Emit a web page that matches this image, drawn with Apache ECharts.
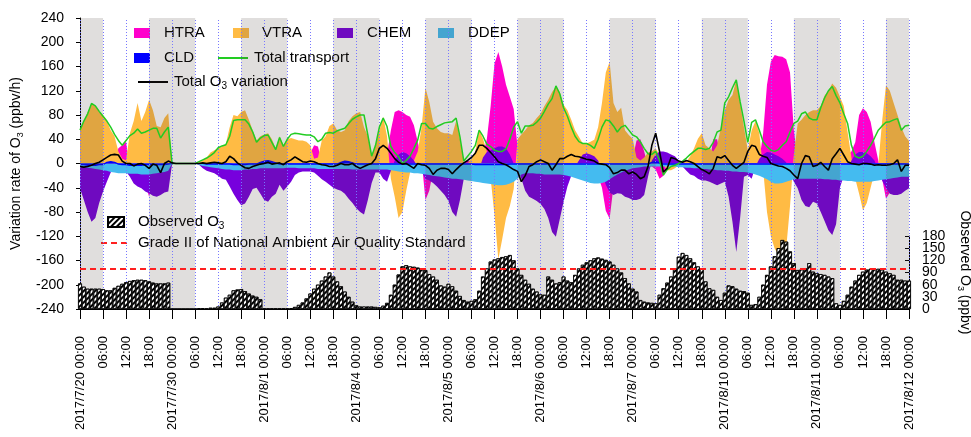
<!DOCTYPE html>
<html>
<head>
<meta charset="utf-8">
<script src="https://cdn.jsdelivr.net/npm/echarts@6/dist/echarts.min.js"></script>
<style>
  html, body { margin: 0; padding: 0; background: #fff; }
  #chart { width: 971px; height: 437px; }
</style>
</head>
<body>
<div id="chart"></div>
<script>
// Etiquetas de los dias (00:00 de cada dia del eje)
const DAY_LABELS = ['2017/7/20', '2017/7/30', '2017/8/1', '2017/8/4', '2017/8/5',
  '2017/8/6', '2017/8/7', '2017/8/10', '2017/8/11', '2017/8/12'];
const GRADE_II = 100; // ppbv
const OBS_MAX = 180;  // tope del eje derecho

// Tasas horarias (ppbv/h), una por hora desde 2017/7/20 00:00
const HTRA = [
  0,0,-3,0,0,1,-2,0,5,3,25,30,36,-9,-20,-35,-20,-33,-55,-30,-4,-18,-23,-23,
  0,0,0,0,0,0,0,1,1,-1,-5,-4,1,1,-1,-15,-9,-6,-13,-16,-7,-3,-3,-3,
  -2,-3,-5,-2,-2,-2,0,6,10,11,10,11,17,30,28,2,5,-11,-16,-1,4,3,-4,-5,
  -6,-5,20,2,-2,0,5,-2,15,55,85,88,85,80,77,63,36,6,-60,-45,-12,3,12,17,
  18,22,5,4,2,4,5,10,0,15,40,95,165,184,160,130,110,90,28,2,7,-1,-4,-7,
  -7,-9,-7,-11,1,-3,-5,-10,-12,-10,-8,0,0,-6,-14,-20,-40,-78,-91,-38,-33,-32,8,8,
  8,38,40,20,-5,-5,-10,-25,-20,-5,5,5,3,0,5,3,-5,-15,-25,-7,0,40,40,10,
  12,5,12,0,2,5,10,10,2,5,50,130,168,179,177,176,172,150,55,5,10,5,-10,-15,
  -16,-3,-4,0,-5,-13,-10,-13,14,20,35,80,91,85,69,35,5,-25,-58,-48,-30,-10,-5,15,25
];
const VTRA = [
  55,70,85,99,95,85,80,70,55,45,20,8,5,50,70,100,70,85,105,88,62,60,75,83,
  0,0,0,0,0,0,0,2,5,10,18,22,25,28,32,60,80,78,85,88,72,55,38,45,
  48,50,40,25,45,30,40,42,40,38,38,36,30,8,10,38,45,62,66,55,52,55,70,78,
  83,85,60,45,14,30,55,77,45,-25,-55,-90,-80,-45,-15,5,20,60,125,102,69,58,52,50,
  50,47,70,40,2,0,8,20,55,41,20,-25,-85,-158,-125,-90,-70,-42,40,48,55,63,67,75,
  82,95,105,118,127,118,97,88,72,55,44,33,33,36,39,60,100,150,168,100,85,92,55,47,
  41,10,5,10,18,20,25,14,-2,-11,-11,-8,-3,3,3,12,25,41,50,30,25,20,30,60,
  88,105,113,138,100,60,22,55,70,50,-10,-80,-120,-140,-151,-151,-140,-70,15,66,72,80,85,88,
  88,95,112,120,132,125,110,95,52,10,-25,-50,-77,-65,-40,-15,-2,70,129,120,100,80,60,45,37
];
const CHEM = [
  -41,-60,-80,-96,-90,-65,-46,-30,-15,-8,-8,-10,-13,-22,-33,-38,-41,-46,-49,-53,-55,-52,-48,-46,
  0,0,0,0,0,0,0,-2,-8,-12,-14,-16,-20,-25,-27,-38,-50,-60,-69,-66,-55,-42,-40,-50,
  -60,-63,-55,-50,-35,-45,-38,-30,-19,-15,-13,-13,-13,-15,-20,-26,-30,-35,-40,-43,-45,-50,-58,-65,
  -74,-80,-84,-60,-32,-15,-15,-25,-30,-12,5,15,19,17,12,5,-5,-13,-25,-28,-32,-38,-45,-52,
  -62,-80,-88,-60,-25,-8,-8,-13,-10,10,19,22,25,28,28,25,15,0,-10,-25,-45,-55,-58,-62,
  -67,-75,-90,-113,-121,-92,-63,-38,-20,-5,5,15,17,15,12,5,-15,-35,-48,-52,-49,-50,-55,-57,
  -60,-60,-58,-52,-22,5,15,20,20,18,15,12,5,-5,-12,-18,-20,-25,-28,-28,-30,-33,-36,-33,
  -30,-55,-96,-146,-90,-22,-19,-25,-5,8,15,19,18,15,12,8,2,-15,-30,-41,-60,-70,-72,-63,
  -66,-80,-95,-110,-118,-100,-40,-20,-10,5,15,19,19,17,12,5,-10,-28,-40,-50,-52,-52,-50,-45,-41
];
const DDEP = [
  -5,-6,-7,-8,-9,-10,-11,-12,-14,-15,-16,-16,-16,-17,-17,-17,-18,-18,-18,-17,-16,-15,-14,-12,
  0,0,0,0,0,0,0,-2,-4,-5,-6,-7,-8,-9,-10,-10,-11,-11,-11,-10,-10,-9,-9,-8,
  -8,-8,-8,-8,-8,-8,-7,-7,-7,-8,-8,-8,-8,-8,-9,-9,-9,-9,-9,-9,-9,-9,-9,-10,
  -10,-10,-10,-10,-10,-10,-10,-10,-10,-11,-12,-13,-14,-15,-15,-16,-16,-17,-18,-19,-20,-21,-22,-23,
  -24,-25,-25,-26,-27,-28,-29,-30,-31,-32,-33,-34,-35,-36,-36,-35,-33,-30,-25,-18,-16,-16,-16,-17,
  -17,-18,-18,-18,-18,-18,-19,-20,-22,-24,-26,-28,-30,-32,-33,-33,-32,-30,-26,-22,-18,-15,-12,-10,
  -8,-7,-6,-5,-5,-5,-5,-5,-5,-5,-5,-5,-6,-6,-7,-7,-8,-8,-9,-9,-10,-10,-11,-11,
  -12,-12,-13,-13,-14,-14,-15,-16,-18,-20,-23,-26,-30,-33,-33,-32,-30,-28,-26,-25,-25,-25,-25,-25,
  -25,-25,-26,-26,-27,-27,-28,-28,-29,-29,-30,-30,-30,-30,-30,-29,-28,-27,-26,-25,-24,-23,-22,-22,-22
];
const CLD = [
  -2,-2,-3,-3,-3,-2,-2,2,3,2,-1,-2,-2,-3,-3,-3,-3,-2,-2,-2,-2,-2,-2,-1,
  0,0,0,0,0,0,0,0,0,-1,-1,-1,-1,-1,-1,-1,-2,-2,-2,-2,-1,-1,-1,2,
  4,5,3,1,-1,-1,-1,-1,-1,-1,-1,-1,-1,-1,-1,-1,-1,-1,-1,-1,2,4,3,1,
  -1,-1,-1,-1,-1,-1,-1,-1,-1,-1,-1,-1,-1,-1,-1,-1,-1,-1,-1,-1,-1,-1,-1,-1,
  -1,-1,-1,-1,-1,-1,-1,-2,-2,-2,-2,-2,-2,-2,-2,-2,-1,-1,-1,-1,-1,-1,-1,-1,
  -1,-1,-1,-1,-1,-1,-1,-1,-1,-1,-1,-1,-1,-1,-1,-1,-1,-1,-1,-1,-1,-1,-1,-1,
  -1,-1,-1,-1,-1,2,3,1,-1,-1,-1,-1,-1,-1,-1,-1,-1,-1,-1,-1,-1,-1,-1,-1,
  -1,-1,-1,-1,-1,-1,-1,-1,-1,-1,-1,-1,-1,-1,-1,-1,-1,-1,-1,-1,-1,-1,-1,-1,
  -1,-1,-1,-1,-1,-1,-1,-1,-1,-1,-1,-1,-1,-1,-1,-1,-1,-1,-1,-1,-1,-1,-1,-1,-1
];
const TOTAL_TRANSPORT = [
  55,70,82,99,95,86,78,70,60,48,38,30,38,46,50,57,50,52,55,58,58,42,52,60,
  0,0,0,0,0,0,0,3,6,9,13,18,26,29,31,45,71,72,72,72,65,52,35,42,
  46,47,35,23,43,28,40,48,50,49,48,47,47,44,36,40,50,51,50,54,56,58,66,73,
  77,80,80,47,12,30,60,75,61,28,18,11,0,5,12,25,39,66,66,58,57,61,64,67,
  68,69,75,44,4,12,20,30,55,45,32,28,22,20,20,24,40,60,69,50,62,62,63,68,
  75,86,98,107,128,115,92,78,60,45,36,33,33,30,25,40,60,72,70,62,52,60,63,55,
  47,44,36,25,16,15,20,5,-19,-10,-5,-3,0,4,9,15,20,25,25,23,25,35,52,55,
  100,110,125,138,102,70,35,68,72,55,36,28,22,20,23,30,36,52,66,70,82,85,75,72,
  72,92,108,120,127,112,100,82,66,30,12,9,12,20,30,42,55,62,68,69,72,74,55,62,63
];
const TOTAL_O3 = [
  -5,-6,-5,-3,0,2,6,10,14,15,14,4,0,0,-4,-1,0,-3,-8,-1,-3,-15,0,4,
  1,0,0,0,0,0,0,0,1,0,1,2,1,0,3,12,8,1,-3,-7,-8,-5,-3,-1,
  0,2,-1,0,1,-2,3,6,11,7,3,2,4,3,0,-2,-3,-5,-5,-3,0,-2,-2,0,
  -5,-8,-5,-2,0,8,25,30,25,17,8,2,-1,0,-4,-8,0,-2,-3,-8,-18,-11,-8,-8,
  -10,-17,-10,-4,1,5,10,17,30,30,25,18,11,3,0,-2,-6,-10,-13,-30,-20,-5,-2,3,
  6,3,0,-11,-2,8,8,12,15,12,11,9,7,6,4,0,-1,-2,-7,-17,-15,-11,-11,-17,
  -14,-18,-25,-22,-5,30,50,20,-14,-8,10,8,4,2,5,3,0,-5,-10,-13,-17,-8,11,9,
  13,5,-3,-8,-3,2,20,30,28,15,12,10,0,-2,-4,-5,-8,-12,-19,-25,0,13,11,-5,
  -3,2,-5,-11,8,16,25,14,3,0,-1,-2,0,0,-1,-3,-2,-3,-3,-2,0,6,-13,-3,-3
];
// O3 observado (ppbv)
const OBSERVED_O3 = [
  63,55,50,50,50,50,49,46,46,52,57,62,66,69,71,72,72,71,68,65,63,63,63,65,
  0,0,0,0,0,0,0,2,2,1,3,3,6,16,28,35,46,48,49,44,38,33,30,24,
  1,1,1,1,1,1,1,2,5,10,16,26,38,50,60,70,80,90,80,68,56,43,30,18,
  9,6,6,6,6,5,4,8,15,35,60,85,105,108,105,104,102,98,96,86,80,72,58,55,
  62,56,45,32,22,18,20,24,45,80,100,117,122,125,128,130,133,120,100,84,72,62,50,43,
  36,35,80,72,63,66,80,70,66,84,100,109,115,120,125,127,124,121,117,109,100,90,76,63,
  50,43,22,18,16,15,14,35,51,65,80,100,129,138,133,125,115,105,100,68,51,47,30,22,
  40,58,56,50,45,44,40,10,12,30,60,84,105,130,150,170,166,142,113,96,98,100,113,92,
  88,86,84,80,76,14,10,20,35,55,70,84,92,97,99,99,99,97,92,88,84,72,72,70,70
];

const FONT = '"Liberation Sans", Arial, sans-serif';
const LAST_HOUR = (DAY_LABELS.length - 1) * 24;

const withHour = arr => arr.map((v, i) => [i, v]);

function hourLabel(v) {
  const h = Math.round(v);
  const hh = h % 24;
  const t = (hh < 10 ? '0' : '') + hh + ':00';
  return hh === 0 ? DAY_LABELS[h / 24] + ' ' + t : t;
}

// Bandas grises de noche (18:00 - 06:00) y lineas punteadas cada 6 h
const nightBands = [];
for (let d = 0; d < DAY_LABELS.length; d++) {
  nightBands.push([{ xAxis: Math.max(0, d * 24 - 6) }, { xAxis: Math.min(LAST_HOUR, d * 24 + 6) }]);
}
const sixHourLines = [];
for (let h = 0; h <= LAST_HOUR; h += 6) sixHourLines.push({ xAxis: h });

const subRich = size => ({
  t: { fontSize: size, lineHeight: 18, color: '#000', fontFamily: FONT },
  s: { fontSize: size - 5, lineHeight: 9, verticalAlign: 'bottom', color: '#000', fontFamily: FONT }
});

function legendText(name) {
  if (name === 'Total O3 variation') return '{t|Total O}{s|3}{t| variation}';
  if (name === 'Observed O3') return '{t|Observed O}{s|3}';
  return '{t|' + name + '}';
}

function legendItem(name, left, cy, w, gap, icon) {
  const item = {
    data: [name], left: left, top: cy - 9, padding: 0, z: 1,
    itemWidth: w, itemHeight: 10, selectedMode: false,
    formatter: legendText,
    textStyle: { fontSize: 15, lineHeight: 18, padding: [0, 0, 0, gap], rich: subRich(15) }
  };
  if (icon) item.icon = icon;
  else item.itemStyle = { opacity: 0 }; // solo la linea, sin simbolo
  return item;
}

function areaSeries(name, data, color, lineWidth) {
  return {
    name: name, type: 'line', xAxisIndex: 0, yAxisIndex: 0,
    data: withHour(data), color: color, symbol: 'none', silent: true, z: 2,
    lineStyle: { width: lineWidth || 0, color: color },
    areaStyle: { color: color, opacity: 1 }
  };
}

const obsLabel = { fontSize: 14, color: '#000', margin: 13, hideOverlap: false };

const chart = echarts.init(document.getElementById('chart'));

const option = {
  animation: false,
  textStyle: { fontFamily: FONT },
  grid: [
    { left: 80, right: 62, top: 18, bottom: 128, containLabel: false, outerBoundsMode: 'none' },
    { left: 80, right: 62, top: 236, bottom: 128, containLabel: false, outerBoundsMode: 'none' }
  ],
  xAxis: [
    {
      gridIndex: 0, type: 'value', min: 0, max: LAST_HOUR, interval: 6,
      axisLine: { onZero: false, lineStyle: { color: '#000', width: 1 } },
      axisTick: { length: 10, lineStyle: { color: '#000' } },
      axisLabel: { rotate: 90, margin: 27, fontSize: 13, color: '#000', formatter: hourLabel, hideOverlap: false },
      splitLine: { show: false },
      name: 'Hour', nameLocation: 'middle', nameGap: 111,
      nameTextStyle: { fontSize: 15, color: '#000' }
    },
    { gridIndex: 1, type: 'value', min: 0, max: LAST_HOUR, show: false }
  ],
  yAxis: [
    {
      gridIndex: 0, type: 'value', min: -240, max: 240, interval: 40,
      axisLine: { show: true, onZero: false, lineStyle: { color: '#000' } },
      axisTick: { show: true, length: 4, lineStyle: { color: '#000' } },
      axisLabel: { fontSize: 14, color: '#000', margin: 16, showMinLabel: true, showMaxLabel: true, hideOverlap: false },
      splitLine: { show: false },
      name: '{t|Variation rate of O}{s|3}{t| (ppbv/h)}',
      nameLocation: 'middle', nameGap: 52,
      nameTextStyle: { fontSize: 14, rich: subRich(14) }
    },
    {
      // eje derecho: 30 ... 150
      gridIndex: 1, type: 'value', position: 'right', min: 0, max: OBS_MAX, interval: 30,
      axisLine: { show: true, onZero: false, lineStyle: { color: '#000' } },
      axisTick: { show: true, inside: true, length: 4, lineStyle: { color: '#000' } },
      axisLabel: Object.assign({ showMinLabel: false, showMaxLabel: false }, obsLabel),
      splitLine: { show: false },
      name: '{t|Observed O}{s|3}{t| (ppbv)}',
      nameLocation: 'middle', nameRotate: -90, nameGap: 40,
      nameTextStyle: { fontSize: 14, rich: subRich(14) }
    },
    {
      // eje derecho: extremos 0 y 180
      gridIndex: 1, type: 'value', position: 'right', min: 0, max: OBS_MAX, interval: OBS_MAX,
      axisLine: { show: false, onZero: false },
      axisTick: { show: true, inside: true, length: 4, lineStyle: { color: '#000' } },
      axisLabel: Object.assign({ showMinLabel: true, showMaxLabel: true }, obsLabel),
      splitLine: { show: false }
    }
  ],
  legend: [
    legendItem('HTRA', 134, 33, 16, 9, 'rect'),
    legendItem('VTRA', 233, 33, 16, 8, 'rect'),
    legendItem('CHEM', 337, 33, 16, 9, 'rect'),
    legendItem('DDEP', 438, 33, 16, 9, 'rect'),
    legendItem('CLD', 134, 58, 16, 9, 'rect'),
    legendItem('Total transport', 217, 58, 30, 1),
    legendItem('Total O3 variation', 137, 82, 30, 1),
    legendItem('Observed O3', 107, 222, 16, 9, 'rect'),
    legendItem('Grade II of National Ambient Air Quality Standard', 100, 243, 27, 5)
  ],
  series: [
    areaSeries('HTRA', HTRA, '#FF00CC'),
    areaSeries('VTRA', VTRA, '#FFBB44'),
    areaSeries('CHEM', CHEM, '#7700DD'),
    areaSeries('DDEP', DDEP, '#44BBF0'),
    areaSeries('CLD', CLD, '#0000FF', 1.2),
    {
      name: 'night', type: 'line', xAxisIndex: 0, yAxisIndex: 0, data: [], silent: true, z: 3,
      markArea: { silent: true, z: 2.9, itemStyle: { color: 'rgba(70,62,55,0.17)' }, data: nightBands },
      markLine: {
        silent: true, z: 3, symbol: ['none', 'none'], label: { show: false },
        lineStyle: { color: '#7777FF', width: 1, type: [1, 2] }, data: sixHourLines
      }
    },
    {
      name: 'Total transport', type: 'line', xAxisIndex: 0, yAxisIndex: 0,
      data: withHour(TOTAL_TRANSPORT), color: '#22CC22', symbol: 'none', silent: true, z: 4,
      lineStyle: { width: 1.5, color: '#22CC22' }
    },
    {
      name: 'Total O3 variation', type: 'line', xAxisIndex: 0, yAxisIndex: 0,
      data: withHour(TOTAL_O3), color: '#000', symbol: 'none', silent: true, z: 4,
      lineStyle: { width: 1.6, color: '#000' }
    },
    {
      name: 'Observed O3', type: 'bar', xAxisIndex: 1, yAxisIndex: 1,
      data: withHour(OBSERVED_O3), barCategoryGap: '0%', barGap: '0%', silent: true, z: 4,
      color: '#FFFFFF',
      itemStyle: {
        color: '#FFFFFF', borderColor: '#000', borderWidth: 0.7,
        decal: {
          symbol: 'rect', symbolSize: 1, color: '#000',
          dashArrayX: [1, 0], dashArrayY: [1.2, 1.6], rotation: -Math.PI / 4
        }
      }
    },
    {
      name: 'Grade II of National Ambient Air Quality Standard', type: 'line',
      xAxisIndex: 1, yAxisIndex: 1, data: [], color: '#FF2020', symbol: 'none', silent: true, z: 5,
      lineStyle: { color: '#FF2020', width: 2, type: [6, 4] },
      markLine: {
        silent: true, z: 5, symbol: ['none', 'none'], label: { show: false },
        lineStyle: { color: '#FF2020', width: 2, type: [6, 4] },
        data: [{ yAxis: GRADE_II }]
      }
    }
  ]
};

chart.setOption(option);
</script>
</body>
</html>
